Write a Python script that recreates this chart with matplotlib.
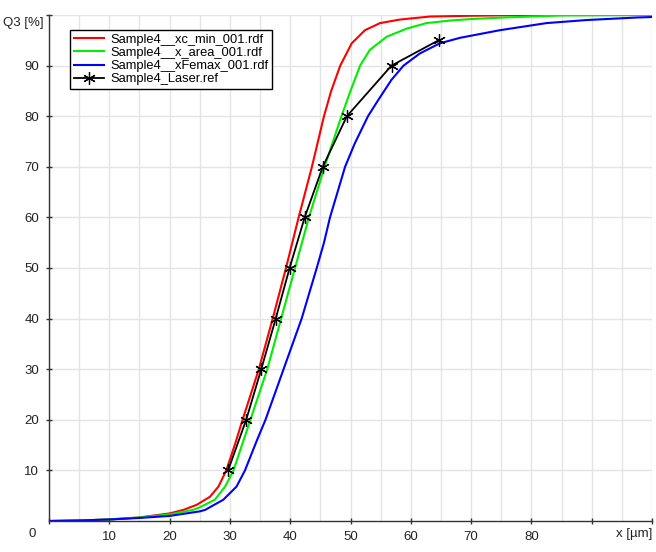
import matplotlib.pyplot as plt
from matplotlib.ticker import MultipleLocator

plt.rcParams['font.family'] = ['Liberation Sans', 'DejaVu Sans']

# Q3 curves (x in um, Q3 in %)
red_x = [0, 5, 10, 15, 20, 22.3, 24.5, 26.7, 28.1, 29.4, 30.8, 32.1, 34.8, 37.1,
         39.3, 41.4, 43.6, 44.6, 45.6, 46.8, 48.3, 50.2, 52.4, 54.9, 58.2, 63.2, 70, 80, 100]
red_y = [0, 0.1, 0.3, 0.7, 1.5, 2.2, 3.2, 4.8, 6.8, 10, 15, 20, 30, 40,
         50, 60, 70, 75, 80, 85, 90, 94.4, 97.0, 98.4, 99.1, 99.7, 99.85, 100, 100]

green_x = [0, 5, 10, 15, 20, 23.9, 25, 27.5, 29.2, 30.6, 33.4, 36.2, 38.5, 40.8,
           43.1, 45.7, 48.5, 50.0, 51.6, 53.2, 56.0, 59.3, 62.6, 66.5, 70, 75.3, 85, 100]
green_y = [0, 0.1, 0.3, 0.7, 1.3, 2.2, 2.7, 4.2, 6.8, 10, 20, 30, 40, 50,
           60, 70, 80, 85, 90, 93.1, 95.7, 97.3, 98.4, 98.9, 99.2, 99.5, 99.9, 100]

blue_x = [0, 5, 10, 15, 20, 25, 25.9, 28.9, 31.1, 32.5, 34.5, 35.9, 37.1, 38.9,
          40.4, 41.9, 44.4, 45.6, 46.6, 49.1, 50.7, 52.9, 54.6, 56.8, 58.8, 61.5,
          64.8, 68.2, 74.8, 82.5, 89.1, 97.4, 100]
blue_y = [0, 0.1, 0.3, 0.6, 1.0, 1.9, 2.2, 4.2, 6.8, 10, 16, 20, 24, 30,
          35, 40, 50, 55, 60, 70, 74.6, 80, 83.2, 87.2, 90, 92.4,
          94.4, 95.5, 97, 98.4, 99, 99.5, 99.6]

laser_x = [29.7, 32.7, 35.2, 37.6, 39.9, 42.4, 45.4, 49.4, 56.8, 64.6]
laser_y = [10, 20, 30, 40, 50, 60, 70, 80, 90, 95]

labels = ["Sample4__xc_min_001.rdf", "Sample4__x_area_001.rdf",
          "Sample4__xFemax_001.rdf", "Sample4_Laser.ref"]

x_ticks = [0, 10, 20, 30, 40, 50, 60, 70, 80, 90, 100]
x_ticklabels = ["", "10", "20", "30", "40", "50", "60", "70", "80", "", ""]
y_ticks = [10, 20, 30, 40, 50, 60, 70, 80, 90, 100]
y_ticklabels = ["10", "20", "30", "40", "50", "60", "70", "80", "90", ""]

fig = plt.figure(figsize=(6.56, 5.52), dpi=100)
ax = fig.add_axes([49/656, 31/552, 603/656, 506/552])

ax.plot(red_x, red_y, color='#ff0000', lw=1.5, label=labels[0])
ax.plot(green_x, green_y, color='#00ee00', lw=1.5, label=labels[1])
ax.plot(blue_x, blue_y, color='#0000ff', lw=1.5, label=labels[2])
ax.plot(laser_x, laser_y, color='black', lw=1.3, marker=(6, 2, 0),
        markersize=9, markeredgewidth=0.9, label=labels[3])

ax.set_xlim(0, 100)
ax.set_ylim(0, 100)
ax.set_xticks(x_ticks)
ax.set_xticklabels(x_ticklabels)
ax.set_yticks(y_ticks)
ax.set_yticklabels(y_ticklabels)
ax.xaxis.set_minor_locator(MultipleLocator(5))
ax.tick_params(which='major', direction='inout', length=5, width=1,
               color='#333333', labelsize=9.5, labelcolor='#222222')
ax.tick_params(axis='x', which='major', pad=4.5)
ax.tick_params(axis='y', which='major', pad=4.5)
ax.tick_params(which='minor', length=0)
ax.grid(which='both', axis='x', color='#e4e4e4', lw=1)
ax.grid(which='major', axis='y', color='#e4e4e4', lw=1)
ax.set_axisbelow(True)

for s in ['top', 'right']:
    ax.spines[s].set_visible(False)
for s in ['left', 'bottom']:
    ax.spines[s].set_color('#333333')
    ax.spines[s].set_linewidth(1)

fig.text(32/656, 1 - 534/552, "0", ha='center', va='center', fontsize=9.5, color='#222222')
fig.text(652/656, 1 - 534/552, "x [µm]", ha='right', va='center', fontsize=9.5, color='#222222')
fig.text(3/656, 1 - 23/552, "Q3 [%]", ha='left', va='center', fontsize=9.5, color='#222222')

leg = ax.legend(loc='upper left', bbox_to_anchor=((70-49)/603, 1 - (30-15)/506),
                borderaxespad=0, fancybox=False, framealpha=1, edgecolor='black',
                fontsize=9.3, labelspacing=0.08, handlelength=2.3, handletextpad=0.5,
                borderpad=0.3)
leg.get_frame().set_linewidth(1)

fig.savefig("out.png", dpi=100)
